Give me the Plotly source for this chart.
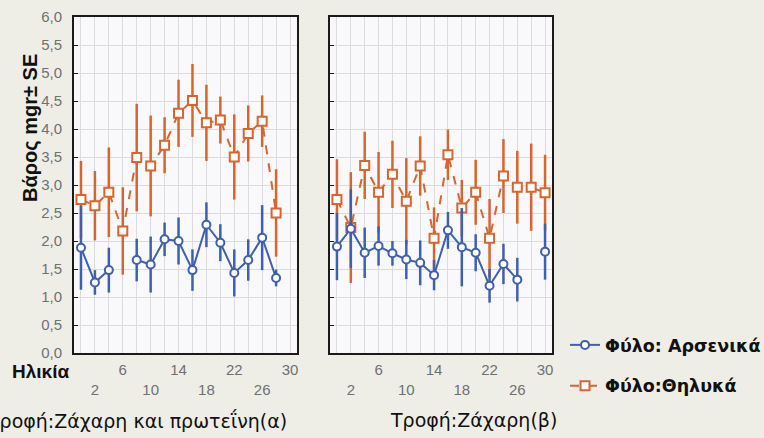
import plotly.graph_objects as go

# ---- data ----
ages_a = [0, 2, 4, 6, 8, 10, 12, 14, 16, 18, 20, 22, 24, 26, 28]
female_a = [2.74, 2.63, 2.87, 2.18, 3.49, 3.34, 3.71, 4.28, 4.51, 4.11, 4.16, 3.50, 3.92, 4.14, 2.50]
female_a_se = [0.69, 0.62, 0.80, 0.78, 0.96, 0.90, 0.50, 0.60, 0.65, 0.68, 0.42, 0.76, 0.50, 0.46, 0.78]
male_a = [1.88, 1.26, 1.48, None, 1.66, 1.58, 2.03, 2.00, 1.48, 2.29, 1.97, 1.43, 1.66, 2.06, 1.34]
male_a_se = [0.75, 0.22, 0.40, 0, 0.38, 0.50, 0.30, 0.42, 0.37, 0.40, 0.33, 0.42, 0.37, 0.58, 0.15]

ages_b = [0, 2, 4, 6, 8, 10, 12, 14, 16, 18, 20, 22, 24, 26, 28, 30]
female_b = [2.74, 2.24, 3.35, 2.87, 3.19, 2.71, 3.34, 2.05, 3.54, 2.59, 2.87, 2.05, 3.16, 2.96, 2.96, 2.86]
female_b_se = [0.72, 0.99, 0.60, 0.72, 0.60, 0.77, 0.53, 0.55, 0.45, 0.50, 0.58, 0.70, 0.66, 0.65, 0.78, 0.68]
male_b = [1.90, 2.22, 1.79, 1.91, 1.78, 1.67, 1.61, 1.39, 2.19, 1.89, 1.79, 1.20, 1.59, 1.31, None, 1.81]
male_b_se = [0.60, 0.70, 0.45, 0.35, 0.22, 0.35, 0.40, 0.27, 0.33, 0.70, 0.33, 0.30, 0.36, 0.39, 0, 0.50]

x_tickvals = [2, 6, 10, 14, 18, 22, 26, 30]
x_ticktext = ["<br>2", "6", "<br>10", "14", "<br>18", "22", "<br>26", "30"]
y_tickvals = [0, 0.5, 1, 1.5, 2, 2.5, 3, 3.5, 4, 4.5, 5, 5.5, 6]

series_names = ["Φύλο: Αρσενικά", "Φύλο:Θηλυκά"]
panel_titles = ["Τροφή:Ζάχαρη και πρωτεΐνη(α)", "Τροφή:Ζάχαρη(β)"]
y_title = "Βάρος mgr± SE"
x_title = "Ηλικία"

ORANGE = "#d6652f"
BLUE = "#3e60ad"
W, H = 764, 438

fig = go.Figure()

def add_panel(ages, fem, fem_se, mal, mal_se, xa, ya, show):
    fig.add_trace(go.Scatter(
        x=ages, y=fem, xaxis=xa, yaxis=ya, mode="lines+markers",
        name=series_names[1], legendgroup="f", showlegend=show, legendrank=2,
        line=dict(color=ORANGE, width=2, dash="dash"),
        marker=dict(symbol="square", size=9, color="white", line=dict(color=ORANGE, width=2)),
        error_y=dict(type="data", array=fem_se, color=ORANGE, thickness=2.5, width=0),
        connectgaps=False))
    fig.add_trace(go.Scatter(
        x=ages, y=mal, xaxis=xa, yaxis=ya, mode="lines+markers",
        name=series_names[0], legendgroup="m", showlegend=show, legendrank=1,
        line=dict(color=BLUE, width=2),
        marker=dict(symbol="circle", size=8, color="white", line=dict(color=BLUE, width=2)),
        error_y=dict(type="data", array=mal_se, color=BLUE, thickness=2.5, width=0),
        connectgaps=False))

add_panel(ages_a, female_a, female_a_se, male_a, male_a_se, "x", "y", True)
add_panel(ages_b, female_b, female_b_se, male_b, male_b_se, "x2", "y2", False)

ydom = [(H - 353) / H, (H - 17) / H]
xcommon = dict(range=[-1, 31], tickvals=x_tickvals, ticktext=x_ticktext, showgrid=True,
               gridcolor="#dcdcdc", gridwidth=1, zeroline=False, showline=True, mirror=True,
               linecolor="#1a1a1a", linewidth=2, ticks="", ticklabelstandoff=2,
               tickfont=dict(family="Liberation Sans, Arial", size=15, color="#707070"),
               minor=dict(tick0=0, dtick=2, showgrid=True, gridcolor="#dcdcdc"))
ycommon = dict(range=[0, 6], tickvals=y_tickvals, showgrid=True, gridcolor="#dcdcdc",
               zeroline=False, showline=True, mirror=True, linecolor="#1a1a1a", linewidth=2,
               ticks="inside", ticklen=4, tickcolor="#1a1a1a", tickformat=".1f",
               ticklabelstandoff=7,
               tickfont=dict(family="Liberation Sans, Arial", size=15, color="#707070"))

fig.update_layout(
    width=W, height=H, margin=dict(l=0, r=0, t=0, b=0, autoexpand=False),
    paper_bgcolor="#efeee6", plot_bgcolor="#f9f9fc", separators=",.",
    xaxis=dict(domain=[74 / W, 297 / W], anchor="y", **xcommon),
    yaxis=dict(domain=ydom, anchor="x", **ycommon),
    xaxis2=dict(domain=[330 / W, 552 / W], anchor="y2", **xcommon),
    yaxis2=dict(domain=ydom, anchor="x2", showticklabels=False, **ycommon),
    legend=dict(x=565 / W, y=(H - 327) / H, xanchor="left", yanchor="top",
                bgcolor="rgba(0,0,0,0)", tracegroupgap=15, traceorder="grouped",
                font=dict(family="DejaVu Sans", size=17.5, color="#111111", weight="bold")),
    showlegend=True,
)

fig.add_annotation(x=30 / W, y=(H - 128) / H, xref="paper", yref="paper", text=y_title,
                   textangle=-90, showarrow=False, xanchor="center", yanchor="middle",
                   font=dict(family="Liberation Sans, Arial", size=20, color="#111111", weight="bold"))
fig.add_annotation(x=71 / W, y=(H - 371) / H, xref="paper", yref="paper", text=x_title,
                   xanchor="right", yanchor="middle", showarrow=False,
                   font=dict(family="Liberation Sans, Arial", size=19, color="#111111", weight="bold"))
fig.add_annotation(x=289 / W, y=(H - 420) / H, xref="paper", yref="paper", text=panel_titles[0],
                   xanchor="right", yanchor="middle", showarrow=False,
                   font=dict(family="DejaVu Sans", size=19, color="#111111"))
fig.add_annotation(x=(388 + 558) / 2 / W, y=(H - 420) / H, xref="paper", yref="paper",
                   text=panel_titles[1], xanchor="center", yanchor="middle", showarrow=False,
                   font=dict(family="DejaVu Sans", size=19, color="#111111"))

fig.write_html("out.html")
